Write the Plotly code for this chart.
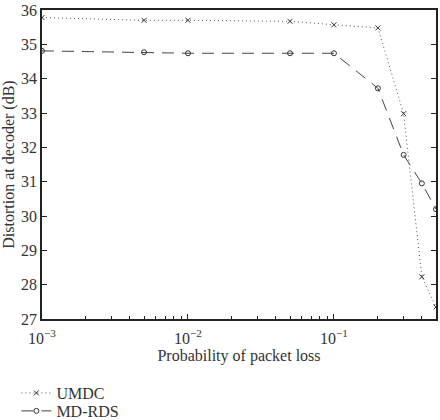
import plotly.graph_objects as go

p_loss = [0.001, 0.005, 0.01, 0.05, 0.1, 0.2, 0.3, 0.4, 0.5]
umdc = [35.78, 35.70, 35.70, 35.67, 35.57, 35.48, 32.98, 28.23, 27.35]
mdrds = [34.81, 34.77, 34.74, 34.74, 34.74, 33.72, 31.78, 30.95, 30.20]

x_tickvals = [0.001, 0.01, 0.1]
x_ticktext = ["10<sup>−3</sup>", "10<sup>−2</sup>", "10<sup>−1</sup>"]
y_tickvals = [27, 28, 29, 30, 31, 32, 33, 34, 35, 36]
x_minor_vals = [m * d for d in x_tickvals for m in range(2, 10) if m * d <= 0.5]

font_family = "Liberation Serif, DejaVu Serif, serif"
col = "#333333"

fig = go.Figure()
fig.add_trace(go.Scatter(
    x=p_loss, y=umdc, name="UMDC", mode="lines+markers", legend="legend",
    line=dict(color="#555555", width=1, dash="1px,3px"),
    marker=dict(symbol="x-thin-open", size=5, color=col, line=dict(width=1, color=col)),
))
fig.add_trace(go.Scatter(
    x=p_loss, y=mdrds, name="MD-RDS", mode="lines+markers", legend="legend2",
    line=dict(color="#444444", width=1, dash="12px,8px"),
    marker=dict(symbol="circle-open", size=5, color=col, line=dict(width=1, color=col)),
))

axis_common = dict(
    showline=True, linecolor="#222222", linewidth=1.5,
    ticks="inside", ticklen=5, tickcolor="#222222", showgrid=False, zeroline=False,
    tickfont=dict(family=font_family, size=16, color="#333333"),
)
minor = dict(ticks="inside", ticklen=3, tickcolor="#222222", showgrid=False,
             tickmode="array", tickvals=x_minor_vals)

fig.update_layout(
    xaxis=dict(
        type="log", range=[-3, -0.30103], mirror=True,
        tickvals=x_tickvals, ticktext=x_ticktext, minor=minor, ticklabelstandoff=4,
        title=dict(text="Probability of packet loss", font=dict(family=font_family, size=16, color="#333333"), standoff=4),
        **axis_common,
    ),
    xaxis2=dict(
        type="log", range=[-3, -0.30103], overlaying="x", side="top", anchor="y",
        tickvals=x_tickvals, showticklabels=False, minor=minor,
        **axis_common,
    ),
    yaxis=dict(
        range=[27, 36], tickvals=y_tickvals, mirror="ticks",
        title=dict(text="Distortion at decoder (dB)", font=dict(family=font_family, size=16, color="#333333"), standoff=3),
        **axis_common,
    ),
)

leg_common = dict(x=-0.065, xanchor="left", yanchor="middle",
                  bgcolor="rgba(0,0,0,0)", itemwidth=30,
                  font=dict(family=font_family, size=16, color="#333333"))

fig.update_layout(
    width=440, height=420,
    margin=dict(l=42, r=4, t=10, b=101, autoexpand=False),
    paper_bgcolor="white", plot_bgcolor="white",
    font=dict(family=font_family, size=16, color="#333333"),
    showlegend=True,
    legend=dict(y=-0.2395, **leg_common),
    legend2=dict(y=-0.2977, **leg_common),
)

fig.write_html("out.html")
